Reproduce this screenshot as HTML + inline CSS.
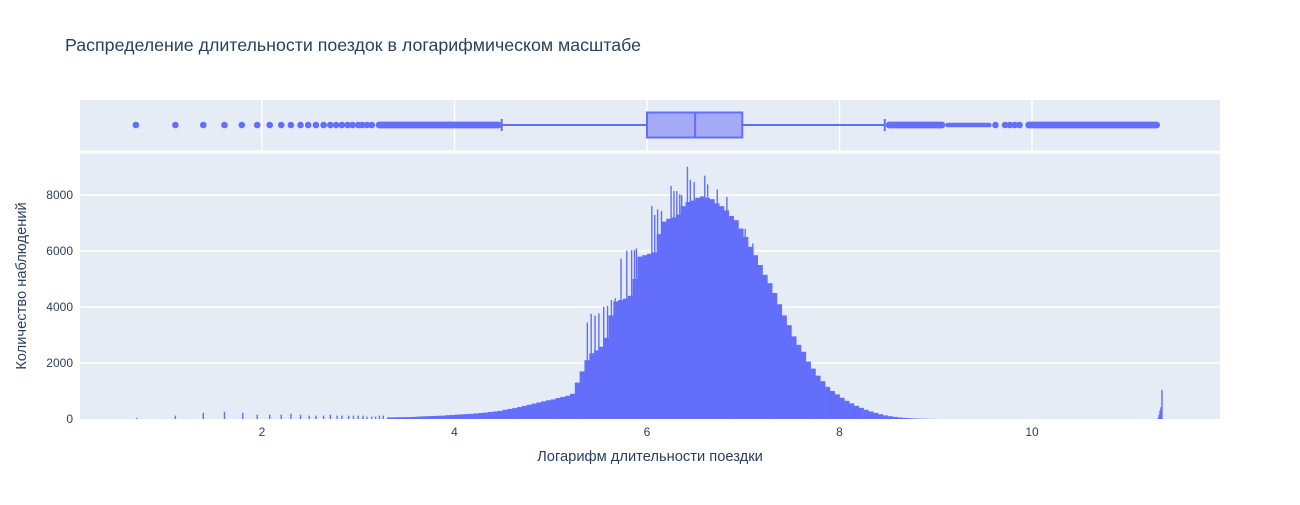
<!DOCTYPE html>
<html><head><meta charset="utf-8">
<style>
body{margin:0;background:#fff;width:1300px;height:500px;overflow:hidden;font-family:"Liberation Sans","DejaVu Sans",sans-serif;}
svg text{font-family:"Liberation Sans","DejaVu Sans",sans-serif;}
</style></head>
<body>
<svg id="chart" width="1300" height="500" xmlns="http://www.w3.org/2000/svg">
<text x="65" y="51" font-size="17.8" fill="#2a3f5f">Распределение длительности поездок в логарифмическом масштабе</text>
<rect x="80" y="100" width="1140" height="50.5" fill="#E5ECF6"/>
<rect x="80" y="153.7" width="1140" height="265.3" fill="#E5ECF6"/>
<g id="grid"></g>
<g id="bars"></g>
<g id="box"></g>
<g id="ticks"></g>
<text x="650" y="461" font-size="14.7" fill="#2a3f5f" text-anchor="middle">Логарифм длительности поездки</text>
<text transform="translate(26,286) rotate(-90)" font-size="14.7" fill="#2a3f5f" text-anchor="middle">Количество наблюдений</text>
</svg>
<script>
// ---- data ----
const xTicks = [2, 4, 6, 8, 10];
const yTicks = [0, 2000, 4000, 6000, 8000];
const baseStart = 3.30;
const baseStep = 0.05;
const baseCounts = [60,60,65,65,70,75,85,95,100,105,115,120,135,145,
 155,165,175,185,200,215,230,250,270,290,330,360,390,430,470,510,550,590,630,670,
 700,750,790,830,900,1300,1700,2100,2350,2450,2580,2900,3700,4200,4250,4300,4400,5000,5800,5850,
 5900,5950,6600,7050,7150,7200,7300,7600,7750,7800,7900,7950,7900,7850,7700,7600,7450,7250,7100,6800,
 6500,6150,5850,5500,5150,4850,4500,4100,3700,3350,2950,2650,2400,2050,1800,1550,1350,1150,1000,880,
 760,650,560,470,400,330,270,220,170,130,100,75,55,40,28,20,14,9,6,4];
const spikeX = [0.70,1.10,1.39,1.61,1.80,1.95,2.08,2.20,2.30,2.40,2.49,2.56,2.64,2.71,2.78,2.83,2.90,2.95,3.00,3.05,3.09,3.14,3.18,3.22,3.26,
 5.38,5.42,5.46,5.50,5.55,5.59,5.63,5.67,5.73,5.79,5.84,5.87,5.89,6.05,6.08,6.11,6.15,6.25,6.28,6.31,6.34,6.36,6.42,6.45,6.49,6.60,6.63,6.73,6.83,7.02,7.10,7.19,
 11.31,11.32,11.33,11.34,11.35];
const spikeCounts = [40,120,225,260,225,155,155,155,190,155,120,120,120,155,120,120,120,120,120,120,85,85,85,120,120,
 3450,3750,3690,3770,4010,4040,4250,4310,5730,6010,6030,6030,6090,7610,7290,7490,7430,8320,8140,8140,8020,8000,9010,8540,8460,8690,8380,8200,7930,6790,6270,5500,
 40,150,300,420,1040];
const lowOutliers = [0.69,1.10,1.39,1.61,1.79,1.95,2.08,2.20,2.30,2.40,2.48,2.56,2.64,2.71,2.77,2.83,2.89,2.94,3.00,3.04,3.09,3.14];
const lowBand = [3.18, 4.49];
const highBands = [[8.48, 9.10], [9.10, 9.58], [9.93, 11.33]];
const highOutliers = [9.62, 9.72, 9.77, 9.82, 9.87];
const boxStats = {lowerFence: 4.49, q1: 6.00, median: 6.50, q3: 6.99, upperFence: 8.47};

// ---- axes ----
const X0 = 80, X1 = 1220, xmin = 0.109, xmax = 11.953;
const Y0 = 419, yPerUnit = 0.028;
const xs = v => X0 + (v - xmin) / (xmax - xmin) * (X1 - X0);
const ys = c => Y0 - c * yPerUnit;
const NS = "http://www.w3.org/2000/svg";
function mk(tag, parent, attrs){const e=document.createElementNS(NS,tag);for(const k in attrs)e.setAttribute(k,attrs[k]);parent.appendChild(e);return e;}
const grid = document.getElementById('grid'), bars = document.getElementById('bars'), box = document.getElementById('box'), ticks = document.getElementById('ticks');

xTicks.forEach(t => {
  const l1 = mk('line', grid, {x1:xs(t),x2:xs(t),y1:100,y2:150.5,stroke:'#fff','stroke-width':1.5});
  
  
  const tx = mk('text', ticks, {x:xs(t),y:436,'font-size':12,fill:'#2a3f5f','text-anchor':'middle'});
  tx.textContent = t;
  
  
});
yTicks.forEach(t => {
  if (t > 0) {
    const l = mk('line', grid, {x1:X0,x2:X1,y1:ys(t),y2:ys(t),stroke:'#fff','stroke-width':1.5});
    
    
  }
  const tx = mk('text', ticks, {x:73,y:ys(t)+4,'font-size':12,fill:'#2a3f5f','text-anchor':'end'});
  tx.textContent = t;
  
  
});

baseCounts.forEach((c, i) => {
  const a = baseStart + i * baseStep;
  const r = mk('rect', bars, {x:xs(a),y:ys(c),width:xs(a+baseStep)-xs(a)+0.3,height:Y0-ys(c),fill:'#636efa'});
  
  
});
spikeX.forEach((v, i) => {
  const c = spikeCounts[i];
  const r = mk('rect', bars, {x:xs(v)-0.7,y:ys(c),width:1.4,height:Y0-ys(c),fill:'#636efa'});
  
  
});

const by = 125;
const wl = mk('line', box, {x1:xs(boxStats.lowerFence),x2:xs(boxStats.upperFence),y1:by,y2:by,stroke:'#636efa','stroke-width':2});


const br = mk('rect', box, {x:xs(boxStats.q1),y:112.5,width:xs(boxStats.q3)-xs(boxStats.q1),height:25,fill:'#a5aaf6',stroke:'#636efa','stroke-width':2});


const md = mk('line', box, {x1:xs(boxStats.median),x2:xs(boxStats.median),y1:112.5,y2:137.5,stroke:'#636efa','stroke-width':2});


[boxStats.lowerFence, boxStats.upperFence].forEach(f => {
  const c = mk('line', box, {x1:xs(f),x2:xs(f),y1:119,y2:131,stroke:'#636efa','stroke-width':2});
  
  
});
lowOutliers.concat(highOutliers).forEach(v => {
  const c = mk('circle', box, {cx:xs(v),cy:by,r:3.3,fill:'#636efa'});
  
  
});
[lowBand].concat(highBands).forEach((b, i) => {
  const h = (i === 2) ? 4.5 : 6.8;
  const r = mk('rect', box, {x:xs(b[0]),y:by-h/2,width:xs(b[1])-xs(b[0]),height:h,rx:h/2,fill:'#636efa'});
  
  
});
</script>
</body></html>
